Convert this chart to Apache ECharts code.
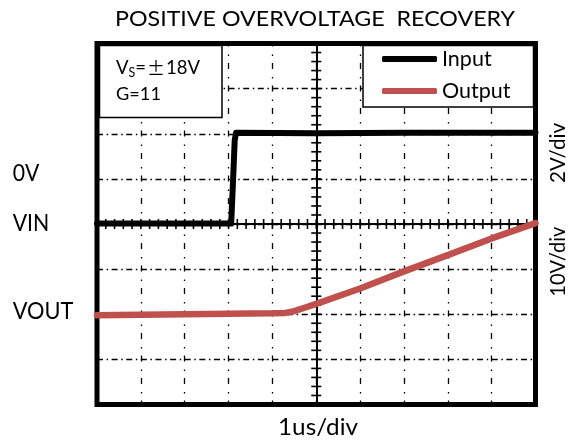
<!DOCTYPE html>
<html>
<head>
<meta charset="utf-8">
<script src="https://cdn.jsdelivr.net/npm/echarts@6/dist/echarts.min.js"></script>
<style>
html,body{margin:0;padding:0;background:#fff;}
#c{width:574px;height:445px;}
</style>
</head>
<body>
<div id="c"></div>
<script>
// ---- data (time in divisions relative to screen centre, voltage in divisions) ----
const seriesNames = ['Input', 'Output'];
const inputT  = [-5, -3, -1.94, -1.90, -1.86, -1.83, -1.78, 0, 2, 5];
const inputV  = [0.01, 0.01, 0.01, 0.9, 1.85, 2.02, 2.02, 2.01, 2.02, 2.02];
const outputT = [-5, -4, -3, -2, -1, -0.7, -0.5, -0.25, 0, 1, 2, 3, 4, 5];
const outputV = [-2.02, -2.01, -2.0, -1.99, -1.98, -1.97, -1.93, -1.85, -1.77, -1.43, -1.05, -0.69, -0.32, 0.02];
const xRange = [-5, 5];
const yRange = [-4, 4];
// graticule minor-tick positions on the centre lines (in divisions)
const xMinorTicks = [-5, -4.8, -4.6, -4.4, -4.2, -4, -3.8, -3.6, -3.4, -3.2, -3, -2.8, -2.6, -2.4, -2.2, -2, -1.8, -1.6, -1.4, -1.2, -1, -0.8, -0.6, -0.4, -0.2, 0, 0.2, 0.4, 0.6, 0.8, 1, 1.2, 1.4, 1.6, 1.8, 2, 2.2, 2.4, 2.6, 2.8, 3, 3.2, 3.4, 3.6, 3.8, 4, 4.2, 4.4, 4.6, 4.8, 5];
const yMinorTicks = [-4, -3.8, -3.6, -3.4, -3.2, -3, -2.8, -2.6, -2.4, -2.2, -2, -1.8, -1.6, -1.4, -1.2, -1, -0.8, -0.6, -0.4, -0.2, 0, 0.2, 0.4, 0.6, 0.8, 1, 1.2, 1.4, 1.6, 1.8, 2, 2.2, 2.4, 2.6, 2.8, 3, 3.2, 3.4, 3.6, 3.8, 4];
const titleText = 'POSITIVE OVERVOLTAGE  RECOVERY';
const sideLabels = ['0V', 'VIN', 'VOUT'];
const scaleLabels = ['2V/div', '10V/div', '1us/div'];
const noteLines = ['V', 'S', '=', '±', '18V', 'G=11'];

const FAM = 'Lato';
const CAP = 0.7165, MID = 0.387;
const GRID = { left: 97, top: 43.5, width: 438.5, height: 361 };
const TICK = 5;
const cv = document.createElement('canvas').getContext('2d');
function measure(t, fs) { cv.font = fs + 'px ' + FAM; return cv.measureText(t).width; }

function fitText(t, left, capTop, base, w, z) {
  const fs = (base - capTop) / CAP;
  return {
    type: 'text', z: z || 12, x: left, y: base - MID * fs,
    scaleX: w / measure(t, fs),
    style: { text: t, x: 0, y: 0, font: fs + 'px ' + FAM, fill: '#000', align: 'left', verticalAlign: 'middle' }
  };
}
function rotText(t, cy, baseX, len, fs) {
  return {
    type: 'text', z: 12, x: baseX - MID * fs, y: cy, rotation: Math.PI / 2,
    scaleX: len / measure(t, fs),
    style: { text: t, x: 0, y: 0, font: fs + 'px ' + FAM, fill: '#000', align: 'center', verticalAlign: 'middle' }
  };
}

const pairs = (xs, ys) => xs.map((x, i) => [x, ys[i]]);

const chart = echarts.init(document.getElementById('c'), null, { renderer: 'canvas' });

function xAx(split) {
  return {
    type: 'value', min: xRange[0], max: xRange[1], interval: 1, position: 'bottom', offset: -GRID.height / 2,
    axisLine: { show: true, onZero: false, lineStyle: { color: '#000', width: 2 } },
    axisTick: { show: false }, axisLabel: { show: false },
    splitLine: { show: split, lineStyle: { color: '#000', width: 1.3, type: [6, 8, 1.6, 6.9], dashOffset: 3 } }
  };
}
function yAx(split) {
  return {
    type: 'value', min: yRange[0], max: yRange[1], interval: 1, position: 'left', offset: -GRID.width / 2,
    axisLine: { show: true, onZero: false, lineStyle: { color: '#000', width: 2 } },
    axisTick: { show: false }, axisLabel: { show: false },
    splitLine: { show: split, lineStyle: { color: '#000', width: 1.3, type: [6, 3.6, 1.5, 3.52] } }
  };
}

// cross ticks on the centre lines, placed through the axes' own scales
function xTickItem(params, api) {
  const p = api.coord([api.value(0), api.value(1)]);
  return { type: 'line', shape: { x1: p[0], y1: p[1] - TICK, x2: p[0], y2: p[1] + TICK },
    style: { stroke: '#000', lineWidth: 1.6 } };
}
function yTickItem(params, api) {
  const p = api.coord([api.value(0), api.value(1)]);
  return { type: 'line', shape: { x1: p[0] - TICK, y1: p[1], x2: p[0] + TICK, y2: p[1] },
    style: { stroke: '#000', lineWidth: 1.6 } };
}

const graphics = [
  fitText(titleText, 115, 12.7, 27.3, 400),
  fitText(sideLabels[0], 12.7, 166.7, 182.7, 26.6),
  fitText(sideLabels[1], 12.7, 216.7, 232.7, 36.6),
  fitText(sideLabels[2], 12.7, 304, 320, 60.6),
  fitText(scaleLabels[2], 278, 420.7, 436.7, 80),
  rotText(scaleLabels[0], 153, 566, 60, 20.5),
  rotText(scaleLabels[1], 261.7, 566, 70, 20.5),
  { type: 'rect', z: 10, shape: { x: 99.5, y: 45.5, width: 122.5, height: 72 },
    style: { fill: '#fff', stroke: '#000', lineWidth: 1.5 } },
  { type: 'text', z: 12, x: 116, y: 75 - 19.2,
    style: { text: '{a|' + noteLines[0] + '}{b|' + noteLines[1] + '}{a|' + noteLines[2] + '}{c|' + noteLines[3] + '}{a|' + noteLines[4] + '}',
      x: 0, y: 0, align: 'left', verticalAlign: 'top',
      rich: {
        a: { fontFamily: FAM, fontSize: 18.5, lineHeight: 24, fill: '#000', color: '#000', verticalAlign: 'middle' },
        b: { fontFamily: FAM, fontSize: 12.5, lineHeight: 12, fill: '#000', color: '#000', verticalAlign: 'bottom' },
        c: { fontFamily: 'Noto Sans CJK SC', fontSize: 18, lineHeight: 24, fill: '#000', color: '#000', verticalAlign: 'middle', padding: [0, 1, 0, 1] }
      } } },
  fitText(noteLines[5], 116, 88.5, 100.7, 45),
  { type: 'rect', z: 10, shape: { x: 363, y: 45.5, width: 170.5, height: 61.5 },
    style: { fill: '#fff', stroke: '#000', lineWidth: 1.5 } }
];

chart.setOption({
  animation: false,
  backgroundColor: '#fff',
  grid: Object.assign({ show: true, borderColor: '#000', borderWidth: 5, backgroundColor: 'transparent' }, GRID),
  xAxis: [xAx(true)],
  yAxis: [yAx(true)],
  legend: {
    z: 20, data: seriesNames, orient: 'vertical', left: 382, top: 46, padding: 0,
    icon: 'roundRect', itemWidth: 55, itemHeight: 6, itemGap: 6, itemTextGap: 4,
    textStyle: { fontFamily: FAM, fontSize: 21.5, lineHeight: 26, color: '#000' }
  },
  graphic: graphics,
  series: [
    { name: 'xticks', type: 'custom', xAxisIndex: 0, yAxisIndex: 0, silent: true, z: 1, clip: false,
      renderItem: xTickItem, data: xMinorTicks.map(v => [v, 0]) },
    { name: 'yticks', type: 'custom', xAxisIndex: 0, yAxisIndex: 0, silent: true, z: 1, clip: false,
      renderItem: yTickItem, data: yMinorTicks.map(v => [0, v]) },
    { name: seriesNames[0], type: 'line', xAxisIndex: 0, yAxisIndex: 0, data: pairs(inputT, inputV),
      symbol: 'none', color: '#000', z: 3,
      lineStyle: { color: '#000', width: 6, join: 'round', cap: 'round' } },
    { name: seriesNames[1], type: 'line', xAxisIndex: 0, yAxisIndex: 0, data: pairs(outputT, outputV),
      symbol: 'none', color: '#C0504D', z: 3,
      lineStyle: { color: '#C0504D', width: 6.5, join: 'round', cap: 'round' } }
  ]
});
</script>
</body>
</html>
